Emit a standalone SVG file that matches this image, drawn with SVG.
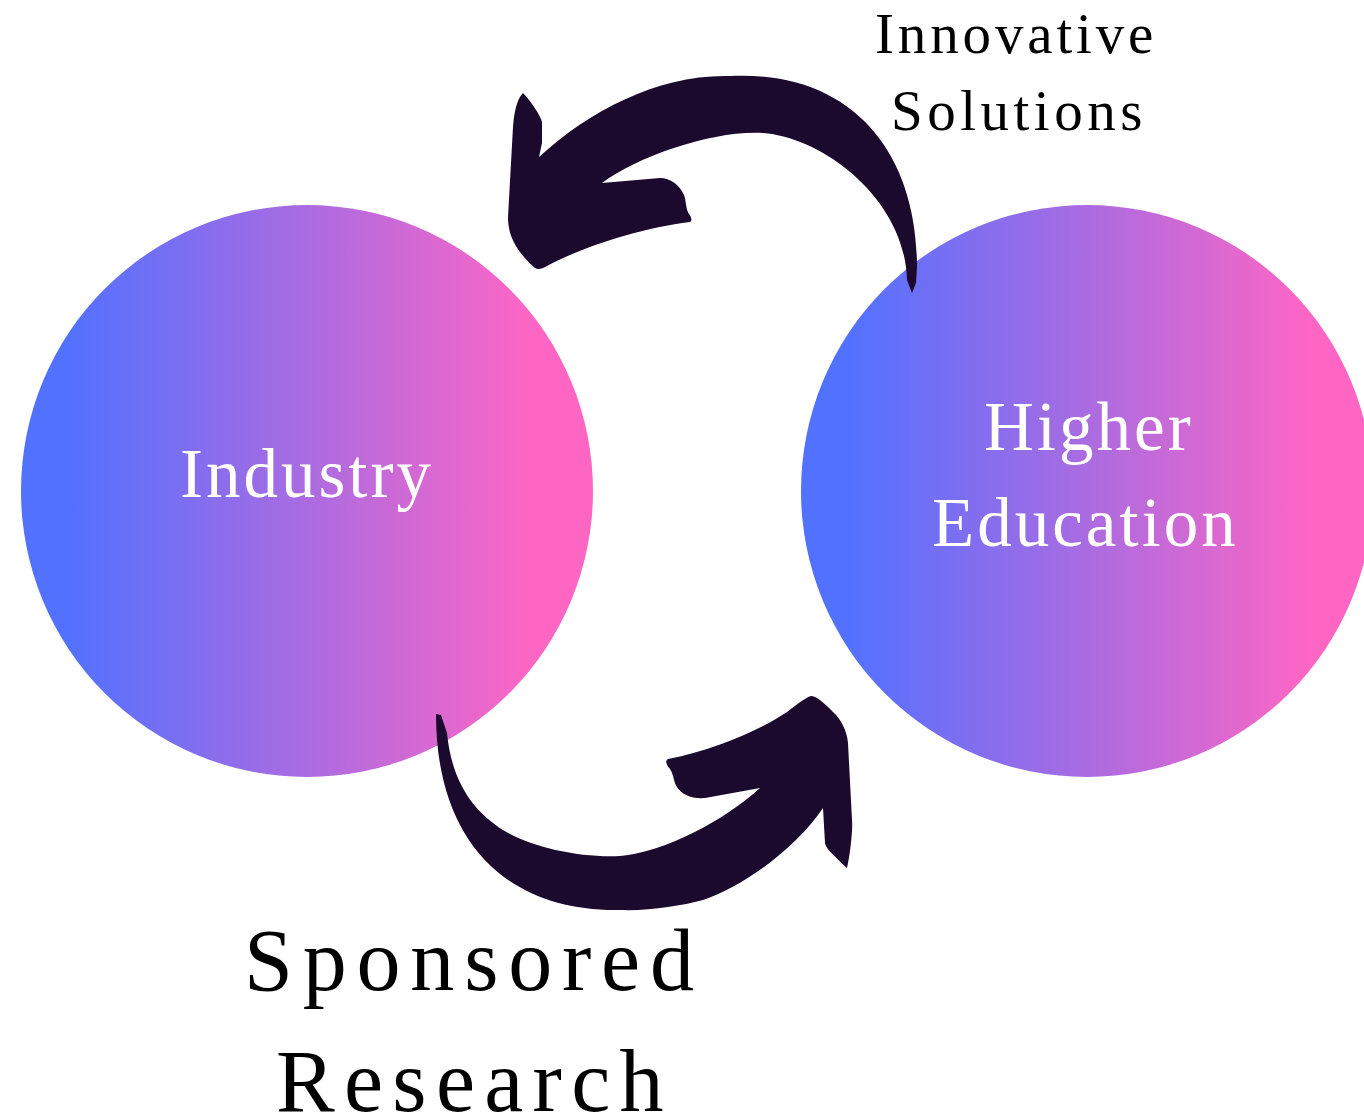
<svg xmlns="http://www.w3.org/2000/svg" width="1364" height="1116" viewBox="0 0 1364 1116">
<defs>
<linearGradient id="grad" x1="0" y1="0" x2="1" y2="0">
<stop offset="0.08" stop-color="#5271ff"/>
<stop offset="0.9" stop-color="#ff66c4"/>
</linearGradient>
<style>
.circle{fill:url(#grad);}
.lbl{font-family:"Liberation Serif","Times New Roman",serif;fill:#ffffff;font-size:69px;letter-spacing:3px;}
.cap{font-family:"Liberation Serif","Times New Roman",serif;fill:#000000;}
.arrow{fill:#1b0a2e;}
</style>
</defs>
<rect width="1364" height="1116" fill="#ffffff"/>
<g id="industry">
<circle class="circle" cx="307" cy="491" r="286"/>
<text class="lbl" x="180" y="497">Industry</text>
</g>
<g id="higher-education">
<circle class="circle" cx="1087" cy="491" r="286"/>
<text class="lbl" x="984" y="450" letter-spacing="2">Higher</text>
<text class="lbl" x="932" y="546">Education</text>
</g>
<g id="connectors">
<path id="arrow-innovative" class="arrow" d="M 916 283 L 917 267 C 917 150, 850 70, 730 76 C 660 74, 590 110, 539 157 L 542 143 L 542 122 C 541 116, 530 100, 523 93 C 516 100, 514 115, 513 127 L 508 217 C 508 235, 515 250, 535 268 C 538 270, 542 269, 547 266 C 580 248, 640 228, 690 222 C 692 221, 692 218, 689 214 C 686 210, 686 200, 684 195 C 680 185, 670 178, 660 178 L 602 183 C 640 155, 715 130, 763 133 C 825 138, 905 200, 907 280 L 912 293 Z"/>
<path id="arrow-sponsored" class="arrow" d="M 436 714 C 436 845, 510 912, 620 910 C 650 911, 680 906, 703 900 C 740 888, 795 850, 823 808 L 825 843 C 826 848, 830 852, 847 868 C 850 855, 853 830, 852 820 L 848 743 C 847 730, 840 718, 833 712 C 825 704, 818 697, 812 696 C 808 696, 800 702, 787 712 C 760 730, 715 750, 668 759 C 665 761, 666 764, 670 769 C 674 775, 674 784, 677 787 C 682 795, 692 799, 705 798 L 760 788 C 725 820, 665 852, 620 856 C 580 858, 530 847, 503 830 C 476 813, 452 785, 447 733 L 441 715 Z"/>
</g>
<g id="label-innovative">
<text class="cap" x="875" y="53" font-size="57" letter-spacing="3.85">Innovative</text>
<text class="cap" x="891" y="130" font-size="57" letter-spacing="4.5">Solutions</text>
</g>
<g id="label-sponsored">
<text class="cap" x="244" y="990" font-size="88" letter-spacing="9.8">Sponsored</text>
<text class="cap" x="276" y="1111" font-size="88" letter-spacing="9.3">Research</text>
</g>
</svg>
